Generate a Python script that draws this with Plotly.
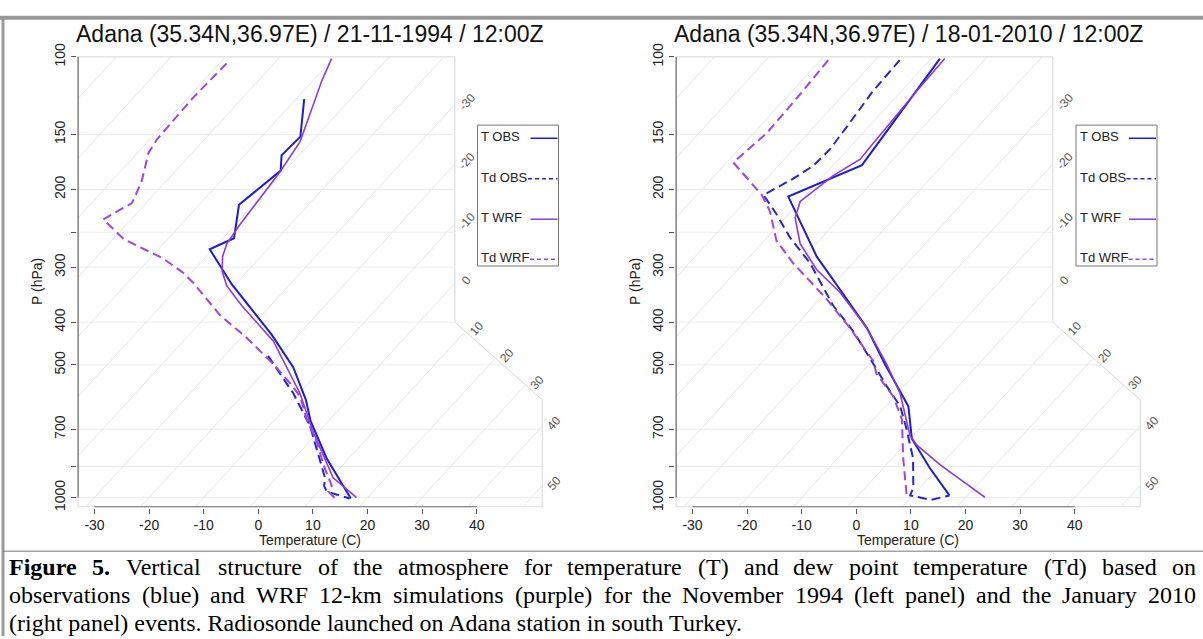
import numpy as np
import plotly.graph_objects as go

W, H = 1203, 639

# ------------------------------------------------------------------ data
# pressure (hPa) / temperature (deg C)
# Left panel: 21-11-1994 12Z
p_tobs_a = [124.7, 151.7, 167.3, 181.2, 216.6, 257.9, 273.2, 304.0, 328.0, 427.0, 506.0, 600.0, 670.0, 814.0, 1005.0]
t_tobs_a = [-58.5, -52.9, -53.2, -50.8, -52.7, -48.0, -50.6, -44.9, -40.7, -24.9, -15.5, -7.7, -3.3, 5.9, 17.1]
p_tdobs_a = [477.0, 580.0, 687.0, 872.0, 902.0, 941.0, 970.0, 1005.0]
t_tdobs_a = [-22.0, -11.1, -2.6, 7.5, 8.9, 10.1, 11.6, 16.9]
p_twrf_a = [100.9, 113.6, 155.8, 182.7, 239.9, 265.5, 284.0, 306.7, 331.0, 366.6, 441.7, 579.8, 711.0, 902.0, 1000.0]
t_twrf_a = [-60.3, -58.3, -52.1, -50.7, -49.2, -48.4, -47.0, -44.6, -41.3, -35.3, -23.5, -9.9, -0.9, 10.4, 18.0]
p_tdwrf_a = [103.5, 123.7, 154.2, 165.0, 192.2, 214.7, 233.8, 258.9, 270.0, 286.7, 309.4, 325.5, 385.8,
             434.4, 497.6, 551.0, 589.7, 664.0, 748.0, 842.0, 941.0, 968.5, 1006.0]
t_tdwrf_a = [-78.7, -79.1, -78.7, -78.0, -74.4, -72.6, -75.1, -68.1, -63.8, -57.6, -51.4, -48.0, -37.6,
             -28.9, -19.7, -13.3, -9.3, -4.3, 1.4, 6.4, 11.5, 11.8, 14.3]

# Right panel: 18-01-2010 12Z
p_tobs_b = [100.9, 134.6, 176.0, 207.5, 284.0, 336.7, 412.6, 497.6, 620.5, 735.4, 857.0, 989.0]
t_tobs_b = [-58.4, -56.5, -54.8, -63.0, -47.7, -38.0, -26.5, -17.2, -5.8, 0.3, 8.5, 16.7]
p_tdobs_b = [101.7, 119.5, 144.1, 162.2, 176.6, 189.0, 205.8, 227.9, 256.6, 294.0, 366.6, 420.0, 497.6,
             560.2, 620.5, 699.1, 814.5, 871.2, 950.0, 989.0, 1012.0, 989.0]
t_tdobs_b = [-65.5, -65.2, -64.0, -63.3, -63.6, -65.1, -67.8, -62.1, -55.9, -47.8, -36.5, -28.4, -19.3,
             -13.0, -7.3, -2.3, 3.8, 6.0, 8.8, 9.5, 14.1, 16.7]
p_twrf_b = [100.9, 119.5, 156.8, 170.7, 185.9, 212.8, 231.7, 265.5, 304.1, 342.6, 412.6, 497.6, 579.8,
            722.8, 760.5, 842.3, 932.6, 998.5]
t_twrf_b = [-57.5, -57.2, -56.4, -56.1, -58.3, -60.0, -58.2, -52.9, -45.5, -37.4, -26.5, -16.9, -9.5,
            -0.6, 2.3, 9.8, 18.0, 23.5]
p_tdwrf_b = [101.7, 121.5, 149.0, 173.6, 205.8, 224.0, 261.0, 294.0, 354.3, 412.6, 489.3, 523.6, 589.7,
             664.2, 814.5, 998.5]
t_tdwrf_b = [-78.6, -78.0, -77.6, -78.8, -68.1, -63.9, -57.8, -50.9, -38.8, -29.6, -19.9, -17.1, -10.2,
             -4.8, 2.0, 9.2]

titles = ["Adana (35.34N,36.97E) / 21-11-1994 / 12:00Z",
          "Adana (35.34N,36.97E) / 18-01-2010 / 12:00Z"]
series_names = ["T OBS", "Td OBS", "T WRF", "Td WRF"]
x_tick_vals = [-30, -20, -10, 0, 10, 20, 30, 40]
p_tick_vals = [100, 150, 200, 250, 300, 400, 500, 700, 850, 1000]
p_tick_text = ["100", "150", "200", "", "300", "400", "500", "700", "", "1000"]
isobars = [1000, 850, 700, 500, 400, 300, 250, 200, 150]
isotherms = list(range(-100, 51, 10))

caption_lines = [
    "Figure 5. Vertical structure of the atmosphere for temperature (T) and dew point temperature (Td) based on",
    "observations (blue) and WRF 12-km simulations (purple) for the November 1994 (left panel) and the January 2010",
    "(right panel) events. Radiosonde launched on Adana station in south Turkey.",
]

panels = [
    [(p_tobs_a, t_tobs_a), (p_tdobs_a, t_tdobs_a), (p_twrf_a, t_twrf_a), (p_tdwrf_a, t_tdwrf_a)],
    [(p_tobs_b, t_tobs_b), (p_tdobs_b, t_tdobs_b), (p_twrf_b, t_twrf_b), (p_tdwrf_b, t_tdwrf_b)],
]

styles = {
    "T OBS": dict(color="#1c1cd8", width=2.0, dash="solid"),
    "Td OBS": dict(color="#2626cc", width=2.0, dash="9px,5px"),
    "T WRF": dict(color="#8c3ae0", width=1.6, dash="solid"),
    "Td WRF": dict(color="#a044e6", width=2.0, dash="9px,5px"),
}

# ------------------------------------------------------------------ skew-T geometry
SKEW = 74.0          # deg C of skew per decade of pressure (RadioSonde convention)


def skew_x(t, p):
    return np.asarray(t, float) + SKEW * np.log10(1000.0 / np.asarray(p, float))


XMIN, XR_UP, XR_LO = -33.0, 36.0, 52.0
P_TOP, P_BOT = 100.0, 1050.0
P_CUP, P_CLO = 400.0, 600.0
L_BOT = np.log10(1000.0 / P_BOT)
L_CLO = np.log10(1000.0 / P_CLO)
L_CUP = np.log10(1000.0 / P_CUP)
K_DIAG = (XR_LO - XR_UP) / (L_CUP - L_CLO)


def x_right(L):
    if L <= L_CLO:
        return XR_LO
    if L >= L_CUP:
        return XR_UP
    return XR_LO - (L - L_CLO) * K_DIAG


def isotherm_exit(T):
    L1 = (XR_LO - T) / SKEW
    if L1 <= L_CLO:
        return L1
    L3 = (XR_UP - T) / SKEW
    if L3 >= L_CUP:
        return min(L3, 1.0)
    return (XR_LO + L_CLO * K_DIAG - T) / (SKEW + K_DIAG)


# pixel layout
PXU = 5.46            # px per deg C
PYD = 452.0           # px per decade of pressure
PY1000 = 497.0
PANEL_X0 = [258.3, 856.3]


def pxo(X, k):
    return PANEL_X0[k] + PXU * X


def pyo(p):
    return PY1000 - PYD * np.log10(1000.0 / p)


def ppx(px):
    return px / W


def ppy(py):
    return 1 - py / H


x_range = [XMIN - 0.25, XR_LO + 0.25]
p_range = [1054.0, 99.5]

fig = go.Figure()
annotations = []
shapes = []
layout_axes = {}


def txt(px, py, text, size, family="Liberation Sans", color="#222", xa="center", ya="middle", angle=0):
    return dict(x=ppx(px), y=ppy(py), xref="paper", yref="paper", text=text, showarrow=False,
                xanchor=xa, yanchor=ya, textangle=angle, borderpad=0,
                font=dict(family=family, size=size, color=color))


for k, series in enumerate(panels):
    xa = "x" if k == 0 else "x2"
    ya = "y" if k == 0 else "y2"
    sfx = "" if k == 0 else "2"

    # frame
    fx = [XMIN, XMIN, XR_LO, XR_LO, XR_UP, XR_UP, XMIN]
    fy = [P_TOP, P_BOT, P_BOT, P_CLO, P_CUP, P_TOP, P_TOP]
    fig.add_trace(go.Scatter(x=fx, y=fy, xaxis=xa, yaxis=ya, mode="lines",
                             line=dict(color="#d6d6d6", width=1), hoverinfo="skip"))
    # isobars
    bx, by = [], []
    for p in isobars:
        L = np.log10(1000.0 / p)
        bx += [XMIN, x_right(L), None]
        by += [p, p, None]
    fig.add_trace(go.Scatter(x=bx, y=by, xaxis=xa, yaxis=ya, mode="lines",
                             line=dict(color="#ececec", width=1), hoverinfo="skip"))
    # isotherms
    ix, iy = [], []
    for T in isotherms:
        L0 = max(L_BOT, (XMIN - T) / SKEW)
        L1 = isotherm_exit(T)
        if L1 <= L0:
            continue
        ix += [T + SKEW * L0, T + SKEW * L1, None]
        iy += [1000.0 / 10 ** L0, 1000.0 / 10 ** L1, None]
        if T >= -30:
            annotations.append(dict(x=T + SKEW * L1, y=np.log10(1000.0 / 10 ** L1), xref=xa, yref=ya,
                                    text=str(T), showarrow=False, textangle=-48, xshift=12, yshift=3,
                                    xanchor="center", yanchor="middle",
                                    font=dict(family="Liberation Sans", size=12, color="#555")))
    fig.add_trace(go.Scatter(x=ix, y=iy, xaxis=xa, yaxis=ya, mode="lines",
                             line=dict(color="#e4e4e4", width=1), hoverinfo="skip"))
    # axis lines (R style: from first to last tick)
    fig.add_trace(go.Scatter(x=[x_tick_vals[0], x_tick_vals[-1]], y=[P_BOT, P_BOT], xaxis=xa, yaxis=ya,
                             mode="lines", line=dict(color="#555", width=1), hoverinfo="skip"))
    fig.add_trace(go.Scatter(x=[XMIN, XMIN], y=[p_tick_vals[0], p_tick_vals[-1]], xaxis=xa, yaxis=ya,
                             mode="lines", line=dict(color="#555", width=1), hoverinfo="skip"))
    # profiles
    for name, (pp, tt) in zip(series_names, series):
        st = styles[name]
        fig.add_trace(go.Scatter(x=skew_x(tt, pp), y=pp, xaxis=xa, yaxis=ya, mode="lines", name=name,
                                 line=dict(color=st["color"], width=st["width"], dash=st["dash"])))

    dom_x = [pxo(x_range[0], k) / W, pxo(x_range[1], k) / W]
    dom_y = [ppy(pyo(p_range[0])), ppy(pyo(p_range[1]))]
    layout_axes["xaxis" + sfx] = dict(domain=dom_x, range=x_range, anchor=ya, tickmode="array",
                                      tickvals=x_tick_vals, ticktext=[str(v) for v in x_tick_vals],
                                      ticks="outside", ticklen=5, tickcolor="#555", showgrid=False,
                                      zeroline=False, showline=False,
                                      tickfont=dict(family="Liberation Sans", size=14, color="#222"))
    layout_axes["yaxis" + sfx] = dict(domain=dom_y, type="log", range=[np.log10(p_range[0]), np.log10(p_range[1])],
                                      anchor=xa, tickmode="array", tickvals=p_tick_vals, ticktext=p_tick_text,
                                      tickangle=-90, ticks="outside", ticklen=5, tickcolor="#555",
                                      showgrid=False, zeroline=False, showline=False,
                                      tickfont=dict(family="Liberation Sans", size=14, color="#222"))

    cx = pxo((XMIN + XR_LO) / 2, k)
    annotations.append(txt(cx, 22, titles[k], 23, color="#111"))
    annotations.append(txt(cx, 541, "Temperature (C)", 14))
    annotations.append(txt(pxo(XMIN, k) - 41, (pyo(P_TOP) + pyo(P_BOT)) / 2, "P (hPa)", 14, angle=-90))

    # legend box
    lx0 = 477.5 + 598.5 * k
    lx1 = lx0 + 81
    shapes.append(dict(type="rect", xref="paper", yref="paper", x0=ppx(lx0), x1=ppx(lx1),
                       y0=ppy(259.5), y1=ppy(115), line=dict(color="#777", width=1)))
    ent_y = [127, 168.5, 210, 251]
    seg_x0 = [53, 50.5, 53, 52.5]
    leg_dash = ["solid", "4px,3px", "solid", "4px,3px"]
    for j, name in enumerate(series_names):
        annotations.append(txt(lx0 + 3, ent_y[j], name, 13, xa="left"))
        shapes.append(dict(type="line", xref="paper", yref="paper", x0=ppx(lx0 + seg_x0[j]), x1=ppx(lx1 - 1),
                           y0=ppy(ent_y[j] + 1.5), y1=ppy(ent_y[j] + 1.5),
                           line=dict(color=styles[name]["color"], width=1.5, dash=leg_dash[j])))

# ------------------------------------------------------------------ caption (justified Times text)
TIMES = dict(zip("abcdefghijklmnopqrstuvwxyz",
                 [444, 500, 444, 500, 444, 333, 500, 500, 278, 278, 500, 278, 778, 500, 500, 500, 500,
                  333, 389, 278, 500, 500, 722, 500, 500, 444]))
TIMES.update(dict(zip("ABCDEFGHIJKLMNOPQRSTUVWXYZ",
                      [722, 667, 667, 722, 611, 556, 722, 722, 333, 389, 722, 611, 889, 722, 722, 556,
                       722, 667, 556, 611, 722, 722, 944, 722, 722, 611])))
TIMES.update({c: 500 for c in "0123456789"})
TIMES.update({" ": 250, ".": 250, ",": 250, "(": 333, ")": 333, "-": 333})
TIMES_B = dict(TIMES)
TIMES_B.update({"F": 611, "u": 556, "r": 444})

CAP_SIZE = 24
CAP_X0, CAP_X1 = 8, 1195
cap_y = [568, 597, 626]


def word_w(wd, bold):
    tab = TIMES_B if bold else TIMES
    return sum(tab.get(c, 500) for c in wd) * CAP_SIZE / 1000.0 * 1.01


for li, line in enumerate(caption_lines):
    words = line.split(" ")
    bold = [li == 0 and wi < 2 for wi in range(len(words))]
    widths = [word_w(w, b) for w, b in zip(words, bold)]
    if li < 2:
        gap = (CAP_X1 - CAP_X0 - sum(widths)) / (len(words) - 1)
        xcur = CAP_X0
        for w, b, wd in zip(words, bold, widths):
            annotations.append(txt(xcur, cap_y[li], ("<b>%s</b>" % w) if b else w, CAP_SIZE,
                                   family="Liberation Serif", color="#000", xa="left"))
            xcur += wd + gap
    else:
        annotations.append(txt(CAP_X0, cap_y[li], line, CAP_SIZE, family="Liberation Serif",
                               color="#000", xa="left"))

# page borders
shapes.append(dict(type="line", xref="paper", yref="paper", x0=0, x1=1, y0=ppy(5), y1=ppy(5),
                   line=dict(color="#9a9a9a", width=4)))
shapes.append(dict(type="line", xref="paper", yref="paper", x0=ppx(3), x1=ppx(3), y0=0, y1=ppy(5),
                   line=dict(color="#9a9a9a", width=3)))
shapes.append(dict(type="line", xref="paper", yref="paper", x0=ppx(3), x1=1, y0=ppy(552), y1=ppy(552),
                   line=dict(color="#777", width=1)))

fig.update_layout(width=W, height=H, margin=dict(l=0, r=0, t=0, b=0), paper_bgcolor="white",
                  plot_bgcolor="white", showlegend=False, annotations=annotations, shapes=shapes,
                  **layout_axes)

fig.write_html("out.html", config={"displayModeBar": False},
               post_script="document.body.style.margin='0';document.body.style.overflow='hidden';")
